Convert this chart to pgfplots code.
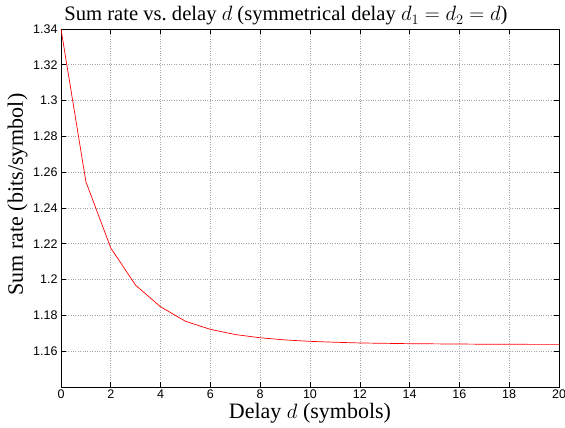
\documentclass[border=0pt]{standalone}
\usepackage{pgfplots}
\pgfplotsset{compat=1.18}
\usepackage{fontspec}
\setmainfont{Liberation Serif}
\newfontfamily\ticksans{Liberation Sans}
\begin{document}
\begin{tikzpicture}
\begin{axis}[
  name=ax,
  scale only axis,
  width=498pt, height=358pt,
  xmin=0, xmax=20, ymin=1.14, ymax=1.34,
  xtick={0,2,...,20},
  ytick={1.16,1.18,1.20,1.22,1.24,1.26,1.28,1.30,1.32,1.34},
  /pgf/number format/assume math mode=true,
  tick label style={font=\ticksans\fontsize{12.5}{13}\selectfont},
  tick align=inside,
  tick pos=both,
  major tick length=5pt,
  grid=major,
  major grid style={dotted, gray!70, line width=0.6pt},
  axis line style={line width=0.9pt, black},
  every tick/.style={black, line width=0.6pt},
  title={Sum rate vs.\ delay $d$ (symmetrical delay $d_1=d_2=d$)},
  title style={font=\fontsize{20.6}{22}\selectfont, at={(axis description cs:0.5,1)}, anchor=center, yshift=7pt, xshift=-24pt},
  xlabel={Delay $d$ (symbols)},
  ylabel={Sum rate (bits/symbol)},
  label style={font=\fontsize{22}{24}\selectfont},
  xlabel style={at={(axis description cs:0.5,0)}, anchor=center, yshift=-26pt},
  ylabel style={at={(axis description cs:-0.0873,0.5377)}, anchor=center},
  xticklabel style={yshift=1pt},
  yticklabel style={xshift=0pt},
]
\addplot[red, line width=0.7pt] coordinates {
(0,1.3400) (1,1.2547) (2,1.2176) (3,1.1968) (4,1.1848) (5,1.1767)
(6,1.1722) (7,1.1693) (8,1.1675) (9,1.1663) (10,1.1655) (11,1.1650)
(12,1.1646) (13,1.1644) (14,1.1642) (15,1.1641) (16,1.1640) (17,1.1639)
(18,1.1639) (19,1.1638) (20,1.1638)
};
\end{axis}
\pgfresetboundingbox
\path[use as bounding box] ([xshift=-61pt,yshift=-41pt]ax.south west) rectangle ([xshift=6pt,yshift=29pt]ax.north east);
\end{tikzpicture}
\end{document}
